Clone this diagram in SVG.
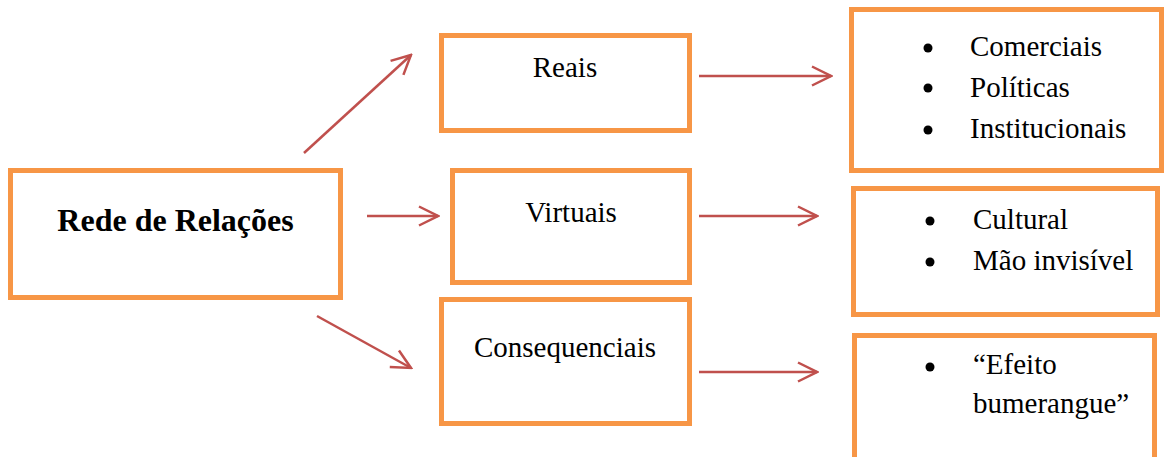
<svg xmlns="http://www.w3.org/2000/svg" width="1164" height="457" viewBox="0 0 1164 457">
<style>
.box{fill:#fff;stroke:#F79646;stroke-width:5}
.t{font-family:"Liberation Serif","Times New Roman",serif;font-size:29px;fill:#000}
.b{font-family:"Liberation Serif","Times New Roman",serif;font-size:32px;font-weight:bold;fill:#000}
.c{fill:none;stroke:#C0504D;stroke-width:2.5}
.dot{fill:#000}
</style>
<defs>
<marker id="ah" markerUnits="userSpaceOnUse" markerWidth="24" markerHeight="24" viewBox="-22 -12 24 24" refX="0" refY="0" orient="auto">
<path d="M-19,-9.5 L0,0 L-19,9.5" fill="none" stroke="#C0504D" stroke-width="2.5"/>
</marker>
</defs>
<rect width="1164" height="457" fill="#fff"/>
<g id="connectors">
<line class="c" x1="304" y1="153" x2="411" y2="55" marker-end="url(#ah)"/>
<line class="c" x1="367" y1="216" x2="438" y2="216" marker-end="url(#ah)"/>
<line class="c" x1="317" y1="316" x2="411" y2="368" marker-end="url(#ah)"/>
<line class="c" x1="699" y1="76" x2="831" y2="76" marker-end="url(#ah)"/>
<line class="c" x1="699" y1="216" x2="817" y2="216" marker-end="url(#ah)"/>
<line class="c" x1="699" y1="372" x2="817" y2="372" marker-end="url(#ah)"/>
</g>
<g id="rede">
<rect class="box" x="10.5" y="170.5" width="330" height="127"/>
<text class="b" x="175.5" y="231" text-anchor="middle">Rede de Relações</text>
</g>
<g id="reais">
<rect class="box" x="441.5" y="35.5" width="248" height="95"/>
<text class="t" x="565" y="77" text-anchor="middle">Reais</text>
</g>
<g id="virtuais">
<rect class="box" x="452.5" y="170.5" width="237" height="112"/>
<text class="t" x="571" y="222" text-anchor="middle">Virtuais</text>
</g>
<g id="consequenciais">
<rect class="box" x="441.5" y="299.5" width="248" height="124"/>
<text class="t" x="565" y="357" text-anchor="middle">Consequenciais</text>
</g>
<g id="lista-reais">
<rect class="box" x="851.5" y="9.5" width="310" height="161"/>
<circle class="dot" cx="928" cy="48" r="4.5"/>
<circle class="dot" cx="928" cy="88" r="4.5"/>
<circle class="dot" cx="928" cy="130" r="4.5"/>
<text class="t" x="970" y="56">Comerciais</text>
<text class="t" x="970" y="97">Políticas</text>
<text class="t" x="970" y="138">Institucionais</text>
</g>
<g id="lista-virtuais">
<rect class="box" x="853.5" y="188.5" width="304" height="126"/>
<circle class="dot" cx="930" cy="221" r="4.5"/>
<circle class="dot" cx="930" cy="262" r="4.5"/>
<text class="t" x="973" y="229">Cultural</text>
<text class="t" x="973" y="270">Mão invisível</text>
</g>
<g id="lista-consequenciais">
<rect class="box" x="854.5" y="335.5" width="300" height="140"/>
<circle class="dot" cx="930" cy="367" r="4.5"/>
<text class="t" x="973" y="374">“Efeito</text>
<text class="t" x="973" y="413">bumerangue”</text>
</g>
</svg>
